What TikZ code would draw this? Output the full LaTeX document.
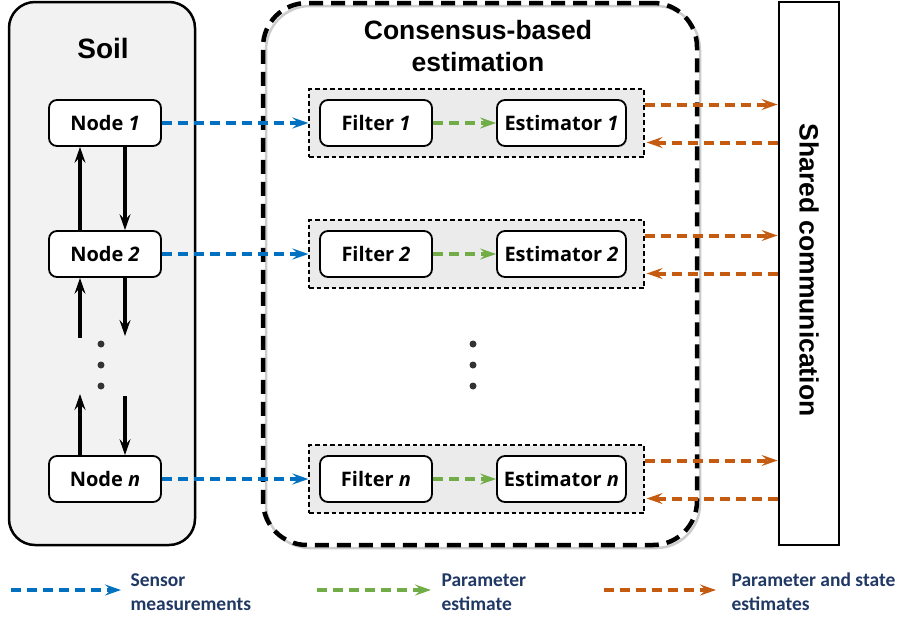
\documentclass[tikz,border=0pt]{standalone}
\usepackage{fontspec}
\setmainfont{Liberation Sans}
\newfontfamily\nodefont{Open Sans}
\newfontfamily\legfont{Carlito}
\usetikzlibrary{arrows.meta,calc}
\definecolor{soilgray}{HTML}{F2F2F2}
\definecolor{innergray}{HTML}{EBEBEB}
\definecolor{myblue}{HTML}{0070C0}
\definecolor{mygreen}{HTML}{70AD47}
\definecolor{myorange}{HTML}{C55A11}
\definecolor{legcol}{HTML}{203864}
\definecolor{dotcol}{HTML}{333333}
\tikzset{
  container/.style={draw, line width=2.5pt, rectangle, rounded corners=26pt, inner sep=0pt},
  nodebox/.style={draw, line width=1.8pt, fill=white, rectangle, rounded corners=8pt, inner sep=0pt,
    minimum height=46pt, font=\nodefont\bfseries\fontsize{20}{22}\selectfont},
  innerbox/.style={draw, line width=1.2pt, dash pattern=on 4.5pt off 3pt, fill=innergray, rectangle,
    inner sep=0pt, minimum width=335pt, minimum height=68pt},
  tip/.style={-{Stealth[length=16pt,width=11pt,inset=6pt]}},
  bluearr/.style={draw=myblue, line width=4pt, dash pattern=on 10pt off 6pt, tip},
  greenarr/.style={draw=mygreen, line width=4pt, dash pattern=on 10pt off 6pt, tip},
  orangearr/.style={draw=myorange, line width=4pt, dash pattern=on 10pt off 6pt, tip},
  blackarr/.style={draw=black, line width=4pt, -{Stealth[length=16pt,width=11pt,inset=6pt]}},
  vdot/.style={circle, fill=dotcol, inner sep=0pt, minimum size=7pt},
  legtext/.style={anchor=west, align=left, text=legcol, font=\legfont\bfseries\fontsize{19.5}{24}\selectfont},
  title/.style={font=\bfseries\fontsize{26}{32}\selectfont, align=center}
}
\begin{document}
\begin{tikzpicture}[x=1pt,y=-1pt]
\useasboundingbox (0,0) rectangle (899,619);

% containers
\node[container, fill=soilgray, minimum width=186pt, minimum height=543pt] (soil) at (102,273.5) {};
\node[title, font=\bfseries\fontsize{28}{32}\selectfont] (soilt) at (103,48) {Soil};

\draw[gray!40, line width=2.5pt, rounded corners=44pt] (266,6) rectangle (700,548);
\node[draw, line width=4.5pt, dash pattern=on 14pt off 8pt, rectangle, rounded corners=44pt,
  inner sep=0pt, minimum width=434pt, minimum height=542pt] (cons) at (480,274) {};
\node[title, font=\bfseries\fontsize{26.5}{32}\selectfont] (const) at (478,46) {Consensus-based\\estimation};

\node[draw, line width=2.8pt, fill=white, rectangle, inner sep=0pt, minimum width=60pt, minimum height=543pt] (shared) at (809,273.5) {};
\node[title, rotate=-90, font=\bfseries\fontsize{26.5}{30}\selectfont] (sharedt) at (809,270) {Shared communication};

% soil nodes
\node[nodebox, minimum width=112pt] (n1) at (105,123) {Node \textit{1}};
\node[nodebox, minimum width=112pt] (n2) at (105,254) {Node \textit{2}};
\node[nodebox, minimum width=112pt] (nn) at (105,479) {Node \textit{n}};

% inner groups
\foreach \i/\y/\lab in {1/123/1, 2/254/2, n/479/n}{
  \node[innerbox] (g\i) at (476.5,\y) {};
  \node[nodebox, minimum width=112pt] (f\i) at (376,\y) {Filter \textit{\lab}};
  \node[nodebox, minimum width=129pt] (e\i) at (561.5,\y) {Estimator \textit{\lab}};
  \draw[bluearr] (n\i.east) -- (g\i.west);
  \draw[greenarr] (f\i.east) -- (e\i.west);
  \draw[orangearr] ([yshift=18.5pt]g\i.east) -- ([yshift=18.5pt]g\i.east -| shared.west);
  \draw[orangearr] ([yshift=-19.5pt]g\i.east -| shared.west) -- ([yshift=-19.5pt,xshift=2pt]g\i.east);
}

% vertical arrows in soil
\draw[blackarr] ([xshift=-25pt]n2.north) -- ([xshift=-25pt]n1.south);
\draw[blackarr] ([xshift=20pt]n1.south) -- ([xshift=20pt]n2.north);
\coordinate (u2) at (80,338);
\coordinate (d2) at (125,336);
\coordinate (u3) at (80,394);
\coordinate (d3) at (125,396);
\draw[blackarr] (u2) -- (u2 |- n2.south);
\draw[blackarr] (n2.south -| d2) -- (d2);
\draw[blackarr] (nn.north -| u3) -- (u3);
\draw[blackarr] (d3) -- (d3 |- nn.north);

% dots
\node[vdot] (sd1) at (101,344) {};
\node[vdot] (sd2) at (101,365) {};
\node[vdot] (sd3) at (101,386) {};
\node[vdot] (cd1) at (473,344) {};
\node[vdot] (cd2) at (473,365) {};
\node[vdot] (cd3) at (473,386) {};

% legend
\coordinate (lb1) at (11,590); \coordinate (lb2) at (121,590);
\coordinate (lg1) at (317,590); \coordinate (lg2) at (431,590);
\coordinate (lo1) at (604,590); \coordinate (lo2) at (716,590);
\draw[bluearr] (lb1) -- (lb2);
\draw[greenarr] (lg1) -- (lg2);
\draw[orangearr] (lo1) -- (lo2);
\node[legtext] (lbt) at (127,592) {Sensor\\measurements};
\node[legtext] (lgt) at (438,592) {Parameter\\estimate};
\node[legtext] (lot) at (728,592) {Parameter and state\\estimates};
\end{tikzpicture}
\end{document}
